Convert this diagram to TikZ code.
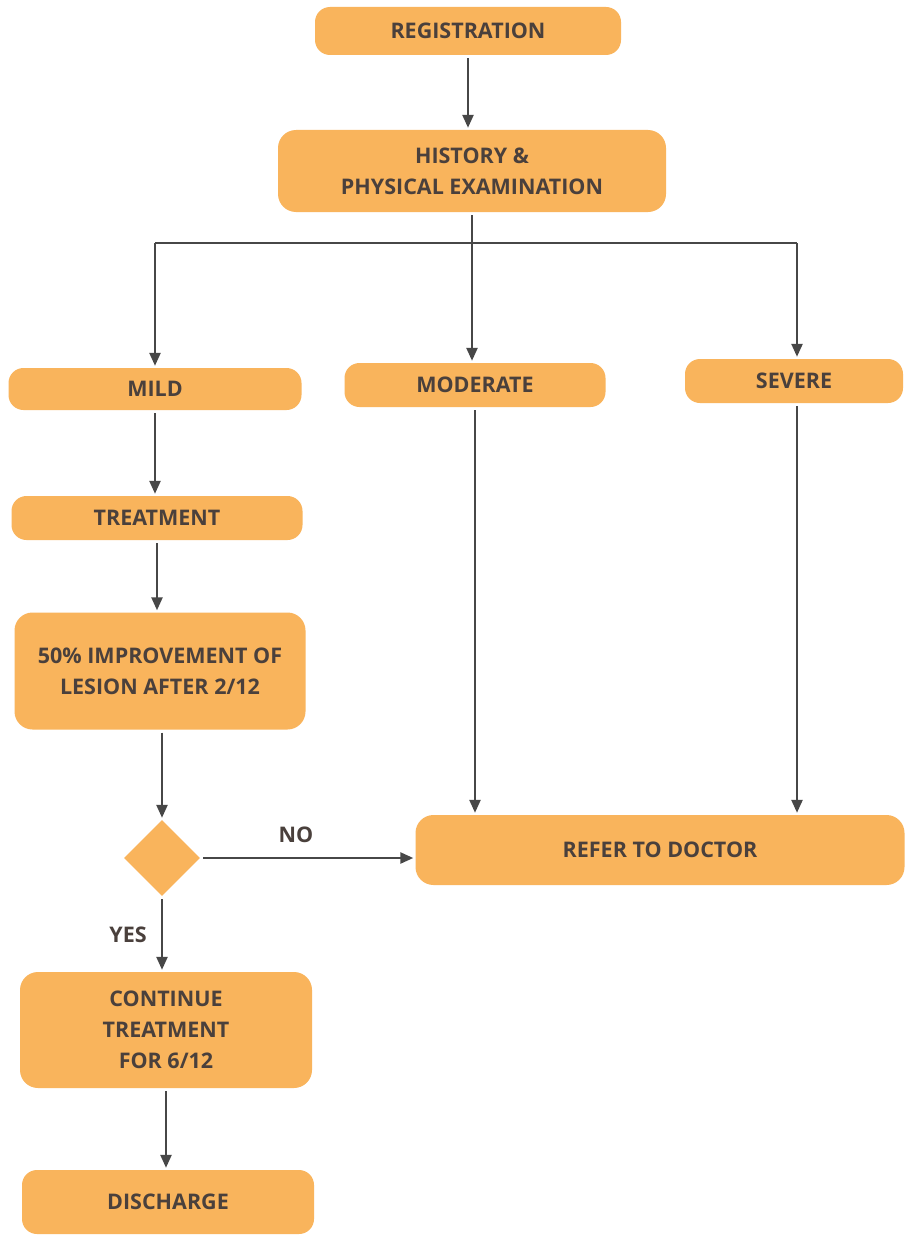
\documentclass[tikz,border=0pt]{standalone}
\usepackage{fontspec}
\setmainfont{Open Sans}
\usetikzlibrary{arrows.meta,shapes.geometric}
\definecolor{boxfill}{HTML}{F9B45C}
\definecolor{ink}{HTML}{4A403C}
\definecolor{linec}{HTML}{474747}
\begin{document}
\begin{tikzpicture}[x=1pt,y=-1pt,
  box/.style={fill=boxfill,rounded corners=15pt,inner sep=0pt,align=center,
    font=\bfseries\fontsize{21.5}{31}\selectfont,text=ink},
  lbl/.style={font=\bfseries\fontsize{21.5}{31}\selectfont,text=ink,inner sep=0pt},
  wire/.style={draw=linec,line width=2.4pt},
  conn/.style={wire,-{Triangle[length=13pt,width=11pt]},shorten <=3pt,shorten >=2pt}]
\useasboundingbox[fill=white] (0,0) rectangle (911,1236);
\node[box,minimum width=306pt,minimum height=48pt] (reg) at (468,31) {REGISTRATION};
\node[box,minimum width=388pt,minimum height=82pt,rounded corners=18pt] (hist) at (472,171) {HISTORY \&\\PHYSICAL EXAMINATION};
\node[box,minimum width=293pt,minimum height=42pt] (mild) at (155,389) {MILD};
\node[box,minimum width=261pt,minimum height=44pt] (mod) at (475,385) {MODERATE};
\node[box,minimum width=218pt,minimum height=44pt] (sev) at (794,381) {SEVERE};
\node[box,minimum width=291pt,minimum height=44pt] (treat) at (157,518) {TREATMENT};
\node[box,minimum width=291pt,minimum height=117pt,rounded corners=18pt] (imp) at (160,671) {50\% IMPROVEMENT OF\\LESION AFTER 2/12};
\node[diamond,fill=boxfill,minimum width=76pt,minimum height=76pt,inner sep=0pt] (dec) at (162,858) {};
\node[box,minimum width=489pt,minimum height=70pt,rounded corners=18pt] (ref) at (660,850) {REFER TO DOCTOR};
\node[box,minimum width=292pt,minimum height=116pt,rounded corners=18pt] (cont) at (166,1030) {CONTINUE\\TREATMENT\\FOR 6/12};
\node[box,minimum width=292pt,minimum height=64pt] (dis) at (168,1202) {DISCHARGE};
\node[lbl] (no) at (296,835) {NO};
\node[lbl] (yes) at (128,935) {YES};
\coordinate (bm) at (472,243);
\coordinate (bl) at (155,243);
\coordinate (br) at (797,243);
\draw[conn] (reg) -- (reg.south |- hist.north);
\draw[wire,shorten <=3pt] (hist.south -| bm) -- (bm);
\draw[wire] (bl) -- (br);
\draw[conn,shorten <=0pt] (bl) -- (bl |- mild.north);
\draw[conn,shorten <=0pt] (bm) -- (bm |- mod.north);
\draw[conn,shorten <=0pt] (br) -- (br |- sev.north);
\draw[conn] (mild.south) -- (treat.north -| mild.south);
\draw[conn] (treat.south) -- (imp.north -| treat.south);
\draw[conn] (imp.south -| dec) -- (dec.north);
\draw[conn] (dec.east) -- (ref.west |- dec);
\draw[conn] (dec.south) -- (cont.north -| dec);
\draw[conn] (cont.south) -- (dis.north -| cont.south);
\draw[conn] (mod.south) -- (mod.south |- ref.north);
\draw[conn] (sev.south -| br) -- (br |- ref.north);
\end{tikzpicture}
\end{document}
